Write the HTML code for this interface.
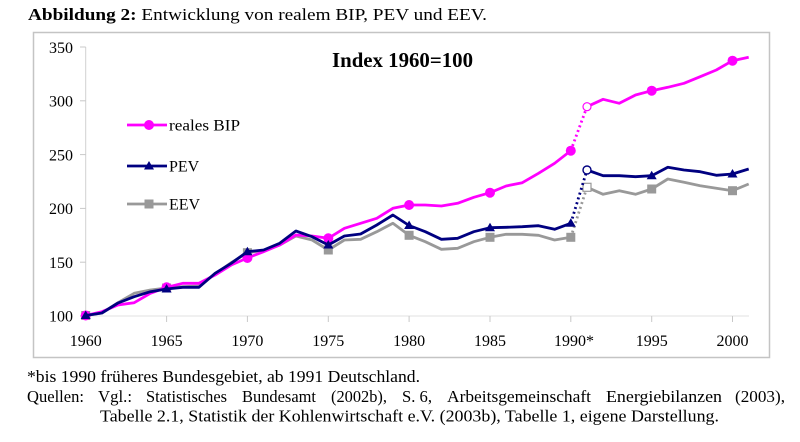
<!DOCTYPE html>
<html>
<head>
<meta charset="utf-8">
<style>
html,body{margin:0;padding:0;background:#fff;}
svg{display:block;}
text{font-family:"Liberation Serif","Times New Roman",serif;fill:#000;}
</style>
</head>
<body>
<svg width="800" height="442" viewBox="0 0 800 442" xmlns="http://www.w3.org/2000/svg">
<!-- header -->
<text x="28" y="20" font-size="16.5" textLength="459" lengthAdjust="spacingAndGlyphs"><tspan font-weight="bold">Abbildung 2:</tspan> Entwicklung von realem BIP, PEV und EEV.</text>

<!-- frame -->
<rect x="33.5" y="32.5" width="736" height="325" fill="#fff" stroke="#c4c4c4" stroke-width="1.5"/>

<!-- axes -->
<line x1="85.7" y1="47" x2="85.7" y2="316" stroke="#d0d0d0" stroke-width="1"/>
<line x1="85.7" y1="316" x2="749" y2="316" stroke="#e0e0e0" stroke-width="1"/>
<g stroke="#c8c8c8" stroke-width="1">
<line x1="80" y1="47" x2="85.7" y2="47"/>
<line x1="80" y1="100.8" x2="85.7" y2="100.8"/>
<line x1="80" y1="154.6" x2="85.7" y2="154.6"/>
<line x1="80" y1="208.4" x2="85.7" y2="208.4"/>
<line x1="80" y1="262.2" x2="85.7" y2="262.2"/>
<line x1="80" y1="316" x2="85.7" y2="316"/>
<line x1="166.6" y1="316" x2="166.6" y2="322"/>
<line x1="247.4" y1="316" x2="247.4" y2="322"/>
<line x1="328.3" y1="316" x2="328.3" y2="322"/>
<line x1="409.1" y1="316" x2="409.1" y2="322"/>
<line x1="490" y1="316" x2="490" y2="322"/>
<line x1="570.8" y1="316" x2="570.8" y2="322"/>
<line x1="651.7" y1="316" x2="651.7" y2="322"/>
<line x1="732.5" y1="316" x2="732.5" y2="322"/>
</g>

<!-- y labels -->
<g font-size="16" text-anchor="end">
<text x="73" y="53">350</text>
<text x="73" y="106.5">300</text>
<text x="73" y="160.3">250</text>
<text x="73" y="214">200</text>
<text x="73" y="268">150</text>
<text x="73" y="321.5">100</text>
</g>
<!-- x labels -->
<g font-size="16" text-anchor="middle">
<text x="85.7" y="346">1960</text>
<text x="166.6" y="346">1965</text>
<text x="247.4" y="346">1970</text>
<text x="328.3" y="346">1975</text>
<text x="409.1" y="346">1980</text>
<text x="490" y="346">1985</text>
<text x="574" y="346">1990*</text>
<text x="651.7" y="346">1995</text>
<text x="732.5" y="346">2000</text>
</g>

<!-- title -->
<text x="332" y="67" font-size="21" font-weight="bold" textLength="141" lengthAdjust="spacingAndGlyphs">Index 1960=100</text>

<!-- EEV -->
<g fill="none" stroke="#999999" stroke-width="2.8" stroke-linejoin="round">
<polyline points="85.7,315.5 101.9,313 118,302.7 134.2,293.3 150.4,290 166.6,288 182.7,286.7 198.9,286 215.1,274 231.2,262.7 247.4,252.7 263.6,250.7 279.7,245 295.9,236 312.1,240 328.3,250 344.4,240 360.6,239.3 376.8,231.7 392.9,223.3 409.1,235.3 425.3,241.7 441.4,249.3 457.6,248.3 473.8,241.7 490,237.3 506.1,234.3 522.3,234.3 538.5,235.3 554.6,240 570.8,237.3"/>
<line x1="570.8" y1="237.3" x2="587" y2="187.3" stroke-dasharray="2,3"/>
<polyline points="587,187.3 603.1,194.3 619.3,190.7 635.5,194.3 651.7,189 667.8,179 684,182.3 700.2,185.7 716.3,188.3 732.5,190.7 748.7,184"/>
</g>
<g fill="#999999">
<rect x="81.2" y="311" width="9" height="9"/>
<rect x="162.1" y="283.5" width="9" height="9"/>
<rect x="242.9" y="248.2" width="9" height="9"/>
<rect x="323.8" y="245.5" width="9" height="9"/>
<rect x="404.6" y="230.8" width="9" height="9"/>
<rect x="485.5" y="232.8" width="9" height="9"/>
<rect x="566.3" y="232.8" width="9" height="9"/>
<rect x="647.2" y="184.5" width="9" height="9"/>
<rect x="728" y="186.2" width="9" height="9"/>
</g>
<rect x="583" y="183.3" width="8" height="8" fill="#fff" stroke="#999999" stroke-width="1.2"/>

<!-- BIP -->
<g fill="none" stroke="#ff00ff" stroke-width="2.8" stroke-linejoin="round">
<polyline points="85.7,315.5 101.9,311.7 118,305 134.2,302.7 150.4,293.3 166.6,287.3 182.7,283.3 198.9,283.3 215.1,275 231.2,265 247.4,258 263.6,251.7 279.7,245 295.9,235 312.1,236 328.3,238.3 344.4,228.3 360.6,223.3 376.8,218.3 392.9,208.3 409.1,205 425.3,205 441.4,206 457.6,203.3 473.8,197.3 490,192.7 506.1,186 522.3,182.7 538.5,173.3 554.6,163.3 570.8,150.7"/>
<line x1="570.8" y1="150.7" x2="587" y2="106.7" stroke-dasharray="2,3"/>
<polyline points="587,106.7 603.1,99.3 619.3,103.3 635.5,95 651.7,90.7 667.8,87.3 684,83.3 700.2,76.7 716.3,70 732.5,60.7 748.7,57.3"/>
</g>
<g fill="#ff00ff">
<circle cx="85.7" cy="315.5" r="5"/>
<circle cx="166.6" cy="287.3" r="5"/>
<circle cx="247.4" cy="258" r="5"/>
<circle cx="328.3" cy="238.3" r="5"/>
<circle cx="409.1" cy="205" r="5"/>
<circle cx="490" cy="192.7" r="5"/>
<circle cx="570.8" cy="150.7" r="5"/>
<circle cx="651.7" cy="90.7" r="5"/>
<circle cx="732.5" cy="60.7" r="5"/>
</g>
<circle cx="587" cy="106.7" r="4" fill="#fff" stroke="#ff00ff" stroke-width="1.2"/>

<!-- PEV -->
<g fill="none" stroke="#000080" stroke-width="2.8" stroke-linejoin="round">
<polyline points="85.7,315.5 101.9,313 118,303 134.2,296.7 150.4,291.7 166.6,289 182.7,287.3 198.9,287.3 215.1,273.3 231.2,263.3 247.4,251.7 263.6,250 279.7,243.3 295.9,231 312.1,236.7 328.3,245 344.4,236 360.6,234 376.8,225 392.9,215 409.1,225.5 425.3,231.7 441.4,239.3 457.6,238.3 473.8,231.7 490,227.7 506.1,227.3 522.3,226.7 538.5,225.7 554.6,229.3 570.8,223.3"/>
<line x1="570.8" y1="223.3" x2="587" y2="170" stroke-dasharray="2,3"/>
<polyline points="587,170 603.1,175.7 619.3,175.7 635.5,176.7 651.7,175.7 667.8,167.3 684,170 700.2,171.7 716.3,175.3 732.5,174 748.7,169"/>
</g>
<g fill="#000080">
<polygon points="85.7,310.5 90.7,319 80.7,319"/>
<polygon points="166.6,284 171.6,292.5 161.6,292.5"/>
<polygon points="247.4,246.7 252.4,255.2 242.4,255.2"/>
<polygon points="328.3,240 333.3,248.5 323.3,248.5"/>
<polygon points="409.1,220.5 414.1,229 404.1,229"/>
<polygon points="490,222.7 495,231.2 485,231.2"/>
<polygon points="570.8,218.3 575.8,226.8 565.8,226.8"/>
<polygon points="651.7,170.7 656.7,179.2 646.7,179.2"/>
<polygon points="732.5,169 737.5,177.5 727.5,177.5"/>
</g>
<circle cx="587" cy="170" r="4" fill="#fff" stroke="#000080" stroke-width="1.4"/>

<!-- legend -->
<line x1="127" y1="125" x2="167" y2="125" stroke="#ff00ff" stroke-width="2.8"/>
<circle cx="149" cy="125" r="5" fill="#ff00ff"/>
<text x="169" y="130.5" font-size="16" textLength="71" lengthAdjust="spacingAndGlyphs">reales BIP</text>
<line x1="127" y1="166" x2="167" y2="166" stroke="#000080" stroke-width="2.8"/>
<polygon points="149,161 154,169.5 144,169.5" fill="#000080"/>
<text x="169" y="171.5" font-size="16">PEV</text>
<line x1="127" y1="204" x2="167" y2="204" stroke="#999999" stroke-width="2.8"/>
<rect x="144.5" y="199.5" width="9" height="9" fill="#999999"/>
<text x="169" y="209.5" font-size="16">EEV</text>

<!-- footer -->
<text x="27" y="382" font-size="16.5" textLength="393" lengthAdjust="spacingAndGlyphs">*bis 1990 früheres Bundesgebiet, ab 1991 Deutschland.</text>
<g font-size="16.5">
<text x="27" y="402" textLength="57" lengthAdjust="spacingAndGlyphs">Quellen:</text>
<text x="98" y="402" textLength="34" lengthAdjust="spacingAndGlyphs">Vgl.:</text>
<text x="146" y="402" textLength="81" lengthAdjust="spacingAndGlyphs">Statistisches</text>
<text x="242" y="402" textLength="74" lengthAdjust="spacingAndGlyphs">Bundesamt</text>
<text x="331" y="402" textLength="56" lengthAdjust="spacingAndGlyphs">(2002b),</text>
<text x="402" y="402" textLength="30" lengthAdjust="spacingAndGlyphs">S. 6,</text>
<text x="447" y="402" textLength="144" lengthAdjust="spacingAndGlyphs">Arbeitsgemeinschaft</text>
<text x="606" y="402" textLength="116" lengthAdjust="spacingAndGlyphs">Energiebilanzen</text>
<text x="735" y="402" textLength="50" lengthAdjust="spacingAndGlyphs">(2003),</text>
</g>
<text x="100" y="421.5" font-size="16.5" textLength="619" lengthAdjust="spacingAndGlyphs">Tabelle 2.1, Statistik der Kohlenwirtschaft e.V. (2003b), Tabelle 1, eigene Darstellung.</text>
</svg>
</body>
</html>
